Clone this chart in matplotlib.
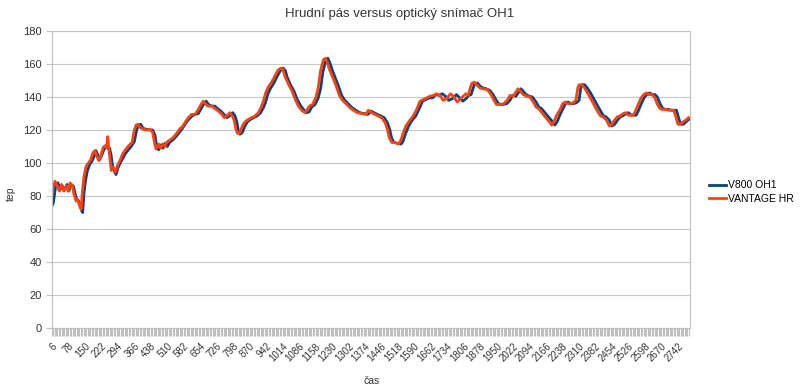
import numpy as np
import matplotlib.pyplot as plt
from matplotlib.ticker import MultipleLocator

plt.rcParams['font.family'] = ['Liberation Sans', 'DejaVu Sans']

# cas (s) a tep - VANTAGE HR (hrudni pas)
vantage_t = [6, 9, 19, 29, 38, 48, 58, 70, 77, 85, 96, 102, 111, 118, 126, 133, 139, 146, 155, 165,
             175, 184, 193, 201, 210, 219, 230, 239, 245, 249, 254, 260, 265, 274, 283, 292, 303, 315, 327, 341,
             356, 365, 373, 382, 391, 405, 420, 434, 446, 455, 461, 472, 481, 490, 499, 507, 522, 536, 551, 566,
             573, 587, 602, 616, 631, 646, 657, 667, 678, 689, 704, 718, 733, 748, 759, 769, 784, 794, 803, 810,
             817, 828, 838, 850, 864, 879, 893, 908, 919, 930, 940, 951, 966, 981, 995, 1007, 1016, 1024, 1039, 1054,
             1068, 1083, 1097, 1112, 1131, 1145, 1160, 1170, 1180, 1192, 1201, 1209, 1221, 1236, 1250, 1262, 1276, 1291, 1309, 1323,
             1341, 1360, 1378, 1389, 1403, 1418, 1432, 1447, 1462, 1472, 1480, 1491, 1505, 1520, 1530, 1542, 1553, 1568, 1585, 1600,
             1615, 1629, 1644, 1658, 1673, 1687, 1702, 1716, 1731, 1748, 1763, 1777, 1792, 1807, 1815, 1826, 1833, 1842, 1853, 1865,
             1877, 1891, 1909, 1923, 1938, 1949, 1967, 1981, 1996, 2008, 2022, 2034, 2043, 2054, 2066, 2080, 2095, 2110, 2121, 2133,
             2145, 2156, 2168, 2180, 2190, 2200, 2212, 2226, 2238, 2249, 2261, 2273, 2284, 2296, 2305, 2311, 2322, 2334, 2345, 2357,
             2369, 2380, 2392, 2404, 2415, 2430, 2442, 2453, 2465, 2477, 2488, 2503, 2514, 2525, 2535, 2547, 2558, 2570, 2581, 2593,
             2605, 2616, 2628, 2640, 2651, 2663, 2675, 2689, 2701, 2713, 2724, 2733, 2742, 2753, 2765, 2777, 2788]
vantage_hr = [81, 84, 89, 86, 83, 87, 83, 86, 83, 88, 86, 81, 77, 78, 74, 72, 83, 92, 98, 100,
              102, 106, 107.5, 104.5, 101.5, 104.5, 109.5, 110.5, 109.5, 116, 109.5, 101.5, 95.5, 97.5, 94.5, 98.5, 101.5, 105.5, 108, 110.5,
              112.5, 119.5, 123, 123.5, 121.5, 120.5, 120, 120.5, 118.5, 111.5, 108.5, 111.5, 109, 111.5, 110, 112.5, 114, 115.5, 118, 121,
              121.5, 124.5, 127.5, 129.5, 129.5, 132.5, 135.5, 137.5, 135.5, 134.5, 134.5, 133, 131.5, 129.5, 127.5, 128.5, 130.5, 128.5, 125.5, 120.5,
              118, 118.5, 122.5, 125, 126.5, 127.5, 128.5, 130.5, 133.5, 137.5, 142.5, 146, 149, 153, 156.5, 157.5, 156.5, 152.5, 148, 144,
              139, 134.5, 132, 130.5, 134.5, 135.5, 140, 146, 156, 162.5, 163.5, 161, 156, 151, 146, 141, 138, 136, 133.5, 132,
              130.5, 130, 129.5, 132, 130.5, 129.5, 128.5, 127.5, 124.5, 120.5, 115.5, 112.5, 112.5, 111.5, 113.5, 118.5, 122.5, 125.5, 128.5, 132.5,
              137.5, 138.5, 139.5, 140.5, 141, 142, 141, 138, 139, 142, 140, 137, 139, 141, 142, 141, 145, 148.5, 149, 147,
              145.5, 145, 144.5, 142, 138, 135.5, 135.5, 136, 138, 141, 140.5, 143, 145, 143.5, 141.5, 140.5, 140, 137, 134, 133,
              131, 129, 127, 125, 123, 125, 129, 132, 136, 137, 136, 136, 136.5, 138, 146, 147.5, 147.5, 145.5, 143, 140,
              137, 134, 131, 128.5, 128, 126, 122.5, 123.5, 126, 128, 128.5, 130, 130.5, 129, 129, 129, 132, 136, 139.5, 141.5,
              142.5, 141.5, 141.5, 140, 136, 133, 132.5, 132.5, 132, 132, 132, 128, 123.5, 123.5, 125, 126, 127.5]

# cas (s) a tep - V800 OH1 (opticky snimac)
v800_t = [6, 12, 22, 32, 42, 52, 62, 72, 80, 90, 100, 106, 114, 122, 130, 136, 140, 146, 152, 160,
          170, 180, 190, 198, 206, 214, 224, 234, 244, 252, 258, 264, 270, 278, 286, 294, 304, 316, 328, 340,
          352, 366, 376, 384, 394, 404, 418, 432, 446, 456, 464, 472, 482, 492, 500, 510, 520, 534, 548, 562,
          576, 590, 604, 618, 632, 646, 658, 670, 680, 690, 704, 718, 730, 744, 758, 770, 782, 796, 806, 814,
          820, 828, 838, 848, 860, 874, 888, 902, 918, 930, 940, 950, 962, 976, 990, 1004, 1016, 1026, 1034, 1048,
          1064, 1078, 1094, 1108, 1120, 1130, 1142, 1156, 1170, 1180, 1190, 1202, 1212, 1220, 1232, 1246, 1260, 1272, 1286, 1300,
          1318, 1334, 1352, 1370, 1388, 1400, 1414, 1428, 1444, 1458, 1472, 1482, 1490, 1500, 1516, 1532, 1540, 1552, 1564, 1578,
          1596, 1610, 1626, 1640, 1656, 1670, 1684, 1698, 1712, 1726, 1740, 1756, 1774, 1788, 1802, 1816, 1828, 1838, 1846, 1854,
          1866, 1878, 1890, 1904, 1920, 1934, 1950, 1962, 1978, 1994, 2008, 2020, 2034, 2046, 2056, 2066, 2078, 2092, 2106, 2122,
          2134, 2146, 2158, 2170, 2182, 2194, 2204, 2214, 2226, 2240, 2252, 2262, 2274, 2286, 2298, 2310, 2318, 2324, 2334, 2346,
          2358, 2370, 2382, 2394, 2406, 2418, 2428, 2442, 2454, 2466, 2478, 2490, 2500, 2516, 2526, 2538, 2548, 2560, 2570, 2582,
          2594, 2606, 2618, 2630, 2642, 2652, 2664, 2676, 2688, 2702, 2714, 2726, 2736, 2746, 2754, 2766, 2778, 2790]
v800_hr = [74, 76, 86, 88, 84, 86, 84, 87, 83, 87, 86, 82, 78, 77, 75, 71, 70, 82, 89, 95,
           99, 101, 104, 107.5, 105, 102, 105, 108.5, 110, 108.5, 109, 105, 99, 95, 93, 97, 100, 103, 106, 108,
           110, 113, 120, 123, 123.5, 121, 120.5, 120, 120, 117, 110, 108, 111, 109, 112, 110, 112.5, 114, 116, 118.5,
           121, 124, 126.5, 128.5, 129.5, 130, 133, 136, 137.5, 135.5, 134.5, 134.5, 133, 131.5, 129.5, 127.5, 128.5, 130.5, 128.5, 125,
           120, 117.5, 118.5, 122, 125, 126.5, 127.5, 128.5, 130.5, 133.5, 137, 142, 145.5, 148.5, 152.5, 156, 157.5, 156, 152, 147.5,
           143.5, 138.5, 134.5, 132, 130.5, 131, 134, 135.5, 139.5, 145, 155, 162, 163.5, 161, 156, 151, 146, 141, 138, 136,
           133.5, 132, 130.5, 130, 129.5, 131.5, 130.5, 129.5, 128.5, 127.5, 124.5, 120.5, 115.5, 112.5, 112, 111.5, 113, 118, 122, 125.5,
           128.5, 132.5, 137.5, 138.5, 139.5, 139.5, 141.5, 141, 142, 140.5, 138, 139, 141.5, 139.5, 137.5, 139, 141, 141.5, 145, 148,
           148.5, 146.5, 145.5, 145, 144, 141.5, 137.5, 135.5, 135.5, 136, 138, 141, 140.5, 143, 145, 143.5, 141.5, 140.5, 140, 137,
           134, 133, 131, 129, 127, 125, 123, 125, 129, 133, 136.5, 137, 136, 136, 136.5, 138, 146, 147.5, 147.5, 145.5,
           143, 140, 137, 134, 131, 128.5, 128, 126, 122.5, 123.5, 126, 128, 128.5, 130, 130.5, 129, 129, 129, 132, 136,
           139.5, 141.5, 142.5, 141.5, 141.5, 140, 136, 133, 132.5, 132.5, 132, 132, 132, 127, 123.5, 123.5, 125, 126.5]

tick_labels = np.arange(6, 2743, 72)

fig = plt.figure(figsize=(8, 3.88), dpi=100)
ax = fig.add_axes([0.065, 0.1546, 0.7975, 0.7654])

ax.plot(v800_t, v800_hr, color='#004586', lw=2.0, label='V800 OH1')
ax.plot(vantage_t, vantage_hr, color='#ff420e', lw=2.0, label='VANTAGE HR')

ax.set_ylim(0, 180)
ax.set_xlim(6, 2795)
ax.yaxis.set_major_locator(MultipleLocator(20))
ax.grid(axis='y', color='#c8c8c8', lw=0.8)
ax.set_axisbelow(True)
for s in ax.spines.values():
    s.set_color('#c0c0c0')

ax.set_xticks(tick_labels)
ax.set_xticklabels([str(v) for v in tick_labels], rotation=45, ha='right',
                   rotation_mode='anchor', fontsize=7, color='#333333')
ax.xaxis.set_minor_locator(MultipleLocator(6))
ax.tick_params(axis='x', which='both', length=6, color='#c0c0c0', width=0.8)
ax.tick_params(axis='y', length=4, color='#c0c0c0', labelsize=8, labelcolor='#333333')

fig.text(0.5, 0.965, 'Hrudní pás versus optický snímač OH1', ha='center', va='center', fontsize=9.5, color='#333333')
fig.text(0.013, 0.5, 'tep', rotation=90, ha='center', va='center', fontsize=7.5, color='#333333')
fig.text(0.464, 0.018, 'čas', ha='center', va='center', fontsize=7.5, color='#333333')

fig.legend(loc='center left', bbox_to_anchor=(0.875, 0.505), frameon=False,
           handlelength=1.6, fontsize=7.5, labelspacing=0.3, handletextpad=0.2)

plt.savefig('out.png', dpi=100)
